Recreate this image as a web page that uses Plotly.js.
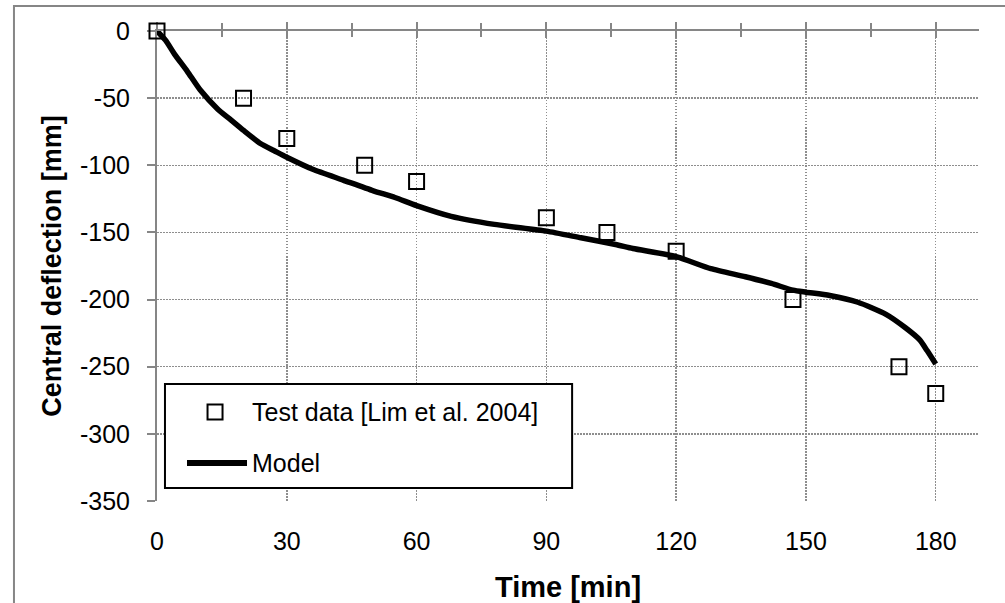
<!DOCTYPE html>
<html>
<head>
<meta charset="utf-8">
<script src="https://cdn.plot.ly/plotly-3.0.1.min.js"></script>
<style>html,body{margin:0;padding:0;background:#fff;}#chart{width:1005px;height:603px;}</style>
</head>
<body>
<div id="chart"></div>
<script>
// Test data [Lim et al. 2004]
const testTime = [0, 20, 30, 48, 60, 90, 104, 120, 147, 171.5, 180];
const testDefl = [0, -50, -80, -100, -112, -139, -150, -164, -200, -250, -270];

// Model curve
const modelTime = [0, 2, 4, 7, 10, 14, 17, 20, 24, 27, 30, 36, 43, 50, 55, 60, 68, 78, 90, 98, 106, 110, 120, 128, 136, 142, 147, 150, 155.5, 162, 168.5, 173, 176.3, 178, 180];
const modelDefl = [0, -7, -17, -30, -44, -58, -66, -74, -84, -89, -94, -103, -111, -119, -124, -130, -138, -144, -149, -154, -159, -162, -168, -177, -183, -188, -193, -194.5, -197, -202, -211, -221, -230, -238, -248];

const xTickVals = [0, 30, 60, 90, 120, 150, 180];
const xTickText = ["0", "30", "60", "90", "120", "150", "180"];
const yTickVals = [0, -50, -100, -150, -200, -250, -300, -350];
const yTickText = ["0", "-50", "-100", "-150", "-200", "-250", "-300", "-350"];

const legendLabels = ["Test data [Lim et al. 2004]", "Model"];

const FONT = "Liberation Sans, Arial, sans-serif";
const GRAY = "#868686";
const GRID = "#8e8e8e";

const traces = [
  {x: modelTime, y: modelDefl, type: "scatter", mode: "lines", name: legendLabels[1],
   line: {color: "#000", width: 5.5, shape: "spline", smoothing: 0.6}, showlegend: false},
  {x: testTime, y: testDefl, type: "scatter", mode: "markers", name: legendLabels[0],
   marker: {symbol: "square-open", size: 15, color: "#000", line: {width: 2, color: "#000"}},
   cliponaxis: false, showlegend: false},
  {x: [], y: [], xaxis: "x2", type: "scatter", showlegend: false, hoverinfo: "skip"},
  {x: [], y: [], xaxis: "x3", type: "scatter", showlegend: false, hoverinfo: "skip"}
];

const topAxis = (ticks, len, minorLen, showline) => ({
  overlaying: "x", side: "top", anchor: "y", range: [0, 190], layer: "below traces",
  tickmode: "array", tickvals: xTickVals, ticks: ticks, ticklen: len, tickwidth: 2, tickcolor: GRAY,
  showline: showline, linecolor: GRAY, linewidth: 2,
  showticklabels: false, showgrid: false, zeroline: false, fixedrange: true,
  minor: {tickmode: "linear", tick0: 15, dtick: 30, ticks: ticks, ticklen: minorLen, tickwidth: 2, tickcolor: GRAY, showgrid: false}
});

const layout = {
  width: 1005, height: 603,
  margin: {l: 157, r: 26, t: 31, b: 102},
  paper_bgcolor: "#fff", plot_bgcolor: "#fff",
  font: {family: FONT, color: "#000", size: 25},
  showlegend: false,
  xaxis: {
    range: [0, 190], tickmode: "array", tickvals: xTickVals, ticktext: xTickText,
    showgrid: true, gridcolor: GRID, gridwidth: 1.5, griddash: "1.5px,1.5px",
    showline: false, ticks: "", zeroline: false, layer: "below traces",
    tickfont: {family: FONT, size: 25, color: "#000"},
    ticklabelstandoff: 23,
    title: {text: "Time [min]", font: {family: FONT, size: 29, weight: "bold", color: "#000"}, standoff: 31}
  },
  xaxis2: topAxis("outside", 7, 6, true),
  xaxis3: topAxis("inside", 7, 6, false),
  yaxis: {
    range: [-350, 0], tickmode: "array", tickvals: yTickVals, ticktext: yTickText,
    showgrid: true, gridcolor: GRID, gridwidth: 1.5, griddash: "1.5px,1.5px",
    showline: true, linecolor: GRAY, linewidth: 2, layer: "below traces",
    ticks: "outside", ticklen: 8, tickwidth: 2, tickcolor: GRAY,
    zeroline: false,
    tickfont: {family: FONT, size: 25, color: "#000"},
    ticklabelstandoff: 12,
    title: {text: "Central deflection [mm]", font: {family: FONT, size: 27, weight: "bold", color: "#000"}, standoff: 11}
  },
  shapes: [
    // outer chart border
    {type: "rect", xref: "paper", yref: "paper", x0: -0.174, x1: 1.06, y0: -0.25, y1: 1.0532,
     line: {color: GRAY, width: 2}, fillcolor: "rgba(0,0,0,0)", layer: "below"},
    // legend box
    {type: "rect", xref: "paper", yref: "paper", x0: 0.0097, x1: 0.505, y0: 0.0277, y1: 0.249,
     line: {color: "#000", width: 2}, fillcolor: "#fff", layer: "above"},
    // legend marker
    {type: "rect", xref: "paper", yref: "paper", xsizemode: "pixel", ysizemode: "pixel",
     xanchor: 0.0706, yanchor: 0.1894, x0: -7.5, x1: 7.5, y0: -7.5, y1: 7.5,
     line: {color: "#000", width: 2}, fillcolor: "rgba(0,0,0,0)", layer: "above"},
    // legend line sample
    {type: "line", xref: "paper", yref: "paper", x0: 0.0365, x1: 0.1095, y0: 0.0809, y1: 0.0809,
     line: {color: "#000", width: 6}, layer: "above"}
  ],
  annotations: [
    {xref: "paper", yref: "paper", x: 0.1131, y: 0.1894, xanchor: "left", yanchor: "middle",
     text: legendLabels[0], showarrow: false, font: {family: FONT, size: 25, color: "#000"}},
    {xref: "paper", yref: "paper", x: 0.1131, y: 0.0809, xanchor: "left", yanchor: "middle",
     text: legendLabels[1], showarrow: false, font: {family: FONT, size: 25, color: "#000"}}
  ]
};

Plotly.newPlot("chart", traces, layout, {staticPlot: true, displayModeBar: false});
</script>
</body>
</html>
